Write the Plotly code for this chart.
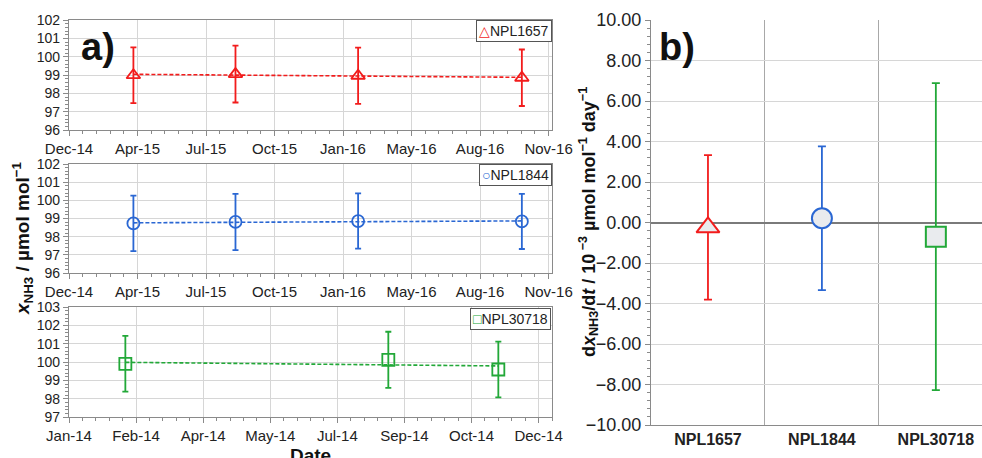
import numpy as np
import pandas as pd
import plotly.graph_objects as go

# ---------------- data ----------------
dates_1657 = ["2015-03-31", "2015-08-27", "2016-02-22", "2016-10-18"]
vals_1657 = [98.99, 99.05, 98.96, 98.85]
err_1657 = [1.52, 1.55, 1.53, 1.54]

dates_1844 = ["2015-03-31", "2015-08-27", "2016-02-22", "2016-10-18"]
vals_1844 = [98.73, 98.81, 98.86, 98.84]
err_1844 = [1.53, 1.55, 1.52, 1.52]

dates_30718 = ["2014-02-12", "2014-08-27", "2014-11-17"]
vals_30718 = [99.90, 100.12, 99.59]
err_30718 = [1.52, 1.53, 1.52]

cylinders = ["NPL1657", "NPL1844", "NPL30718"]
drift = [-0.24, 0.21, -0.70]
drift_err = [3.57, 3.55, 7.58]

colors = ["#f21c1c", "#2a67d3", "#22a838"]
symbols = ["triangle-up-open", "circle-open", "square-open"]
big_symbols = ["triangle-up", "circle", "square"]
legend_glyphs = ["△", "○", "□"]

DAY_MS = 86400000

W, H = 982, 458


def px_x(p):
    return p / W


def px_y(p):
    return 1 - p / H


fig = go.Figure()

panels = [
    (dates_1657, vals_1657, err_1657, "x", "y"),
    (dates_1844, vals_1844, err_1844, "x2", "y2"),
    (dates_30718, vals_30718, err_30718, "x3", "y3"),
]

for i, (d, v, e, xa, ya) in enumerate(panels):
    dt = pd.to_datetime(d)
    t = (dt - dt[0]).days.values.astype(float)
    slope, icpt = np.polyfit(t, np.array(v), 1)
    fit = icpt + slope * np.array([t[0], t[-1]])
    fig.add_trace(go.Scatter(
        x=[d[0], d[-1]], y=fit, mode="lines",
        line=dict(color=colors[i], width=1.6, dash="4px,2px"),
        xaxis=xa, yaxis=ya, showlegend=False, hoverinfo="skip"))
    fig.add_trace(go.Scatter(
        x=d, y=v, mode="markers",
        marker=dict(symbol=symbols[i], size=12, color=colors[i],
                    line=dict(width=1.8, color=colors[i])),
        error_y=dict(type="data", array=e, color=colors[i], thickness=1.8, width=3),
        xaxis=xa, yaxis=ya, showlegend=False, name=cylinders[i]))

# right panel
for i, c in enumerate(cylinders):
    fig.add_trace(go.Scatter(
        x=[i], y=[drift[i]], mode="markers",
        marker=dict(symbol=big_symbols[i], size=20, color="#e9ebee",
                    line=dict(width=2, color=colors[i])),
        error_y=dict(type="data", array=[drift_err[i]], color=colors[i],
                     thickness=1.8, width=4),
        xaxis="x4", yaxis="y4", showlegend=False, name=c))

font_family = "Liberation Sans, Arial, sans-serif"
xtick_font = dict(family=font_family, size=15, color="#222")
ytick_font = dict(family=font_family, size=14, color="#222")

left_dom = [px_x(69), px_x(552)]
grid_c = "#d6d6d6"
axis_c = "#8a8a8a"


def date_axis(dom, anchor, tick0, dtick_days, minor_days, rng):
    return dict(
        domain=dom, anchor=anchor, type="date", range=rng, automargin=False,
        tick0=tick0, dtick=dtick_days * DAY_MS, tickformat="%b-%y",
        showgrid=True, gridcolor=grid_c, gridwidth=1,
        showline=True, linecolor=axis_c, linewidth=1.2, mirror=True,
        ticks="outside", ticklen=5, tickcolor=axis_c,
        minor=dict(tick0=tick0, dtick=minor_days * DAY_MS, ticks="outside",
                   ticklen=3, tickcolor=axis_c, showgrid=False),
        tickfont=xtick_font, zeroline=False)


def val_axis(dom, anchor, rng):
    return dict(
        domain=dom, anchor=anchor, range=rng, dtick=1, automargin=False,
        showgrid=True, gridcolor=grid_c, gridwidth=1,
        showline=True, linecolor=axis_c, linewidth=1.2, mirror=True,
        ticks="outside", ticklen=5, tickcolor=axis_c,
        minor=dict(dtick=0.2, ticks="outside", ticklen=3, tickcolor=axis_c,
                   showgrid=False),
        tickfont=ytick_font, zeroline=False)


top_rng = ["2014-12-27", "2016-12-01"]
bot_rng = ["2014-01-01", "2014-12-27"]

fig.update_layout(
    xaxis=date_axis(left_dom, "y", "2014-12-27", 100, 20, top_rng),
    yaxis=val_axis([px_y(130), px_y(20)], "x", [96, 102]),
    xaxis2=date_axis(left_dom, "y2", "2014-12-27", 100, 20, top_rng),
    yaxis2=val_axis([px_y(273), px_y(164)], "x2", [96, 102]),
    xaxis3=date_axis(left_dom, "y3", "2014-01-01", 50, 10, bot_rng),
    yaxis3=val_axis([px_y(417), px_y(307)], "x3", [97, 103]),
    xaxis4=dict(
        domain=[px_x(651), 1.0], anchor="y4", range=[-0.5, 2.405],
        automargin=False,
        tickvals=[0, 1, 2], ticktext=["<b>%s</b>" % c for c in cylinders],
        showgrid=False,
        tickfont=dict(family=font_family, size=16, color="#222"),
        showline=True, linecolor=axis_c, linewidth=1.2, ticks="",
        minor=dict(tickvals=[0.5, 1.5], showgrid=True, gridcolor="#a8a8a8",
                   gridwidth=1, ticks=""),
        zeroline=False),
    yaxis4=dict(
        domain=[px_y(425), px_y(20)], anchor="x4", range=[-10, 10], dtick=2,
        automargin=False,
        tickformat=".2f", showgrid=True, gridcolor=grid_c, gridwidth=1,
        showline=True, linecolor=axis_c, linewidth=1.2,
        ticks="outside", ticklen=5, tickcolor=axis_c,
        minor=dict(dtick=0.4, ticks="outside", ticklen=3, tickcolor=axis_c,
                   showgrid=False),
        zeroline=True, zerolinecolor="#7a7a7a", zerolinewidth=1.6,
        tickfont=dict(family=font_family, size=18, color="#222")),
    width=W, height=H,
    margin=dict(l=0, r=0, t=0, b=0, autoexpand=False),
    paper_bgcolor="white", plot_bgcolor="white",
    showlegend=False,
    font=dict(family=font_family),
)

# legend boxes (annotations)
legend_pos = [(552, 20), (552, 164), (551, 308)]
for i, (lx, ly) in enumerate(legend_pos):
    fig.add_annotation(
        x=px_x(lx), y=px_y(ly), xref="paper", yref="paper",
        xanchor="right", yanchor="top", showarrow=False,
        text=f"<span style='color:{colors[i]}'>{legend_glyphs[i]}</span>{cylinders[i]}",
        font=dict(family=font_family, size=14, color="#222"),
        bgcolor="white", bordercolor="#555", borderwidth=1, borderpad=2)

# panel labels
fig.add_annotation(x=px_x(98), y=px_y(47), xref="paper", yref="paper",
                   xanchor="center", yanchor="middle",
                   text="<b>a)</b>", showarrow=False,
                   font=dict(family=font_family, size=38, color="#111"))
fig.add_annotation(x=px_x(677), y=px_y(47), xref="paper", yref="paper",
                   xanchor="center", yanchor="middle",
                   text="<b>b)</b>", showarrow=False,
                   font=dict(family=font_family, size=38, color="#111"))

# axis titles
fig.add_annotation(x=px_x(22), y=px_y(238), xref="paper", yref="paper",
                   xanchor="center", yanchor="middle",
                   text="<b><i>x</i><sub>NH3</sub> / µmol mol<sup>−1</sup></b>",
                   textangle=-90, showarrow=False,
                   font=dict(family=font_family, size=19, color="#111"))
fig.add_annotation(x=px_x(310), y=px_y(443), xref="paper", yref="paper",
                   xanchor="center", yanchor="top", text="<b>Date</b>",
                   showarrow=False,
                   font=dict(family=font_family, size=19, color="#111"))
fig.add_annotation(x=px_x(588), y=px_y(222), xref="paper", yref="paper",
                   xanchor="center", yanchor="middle",
                   text="<b>d<i>x</i><sub>NH3</sub>/d<i>t</i> / 10<sup> −3</sup> µmol mol<sup>−1</sup> day<sup>−1</sup></b>",
                   textangle=-90, showarrow=False,
                   font=dict(family=font_family, size=18, color="#111"))

fig.write_html("out.html", config={"displayModeBar": False},
               post_script="document.body.style.margin='0';document.body.style.overflow='hidden';")
